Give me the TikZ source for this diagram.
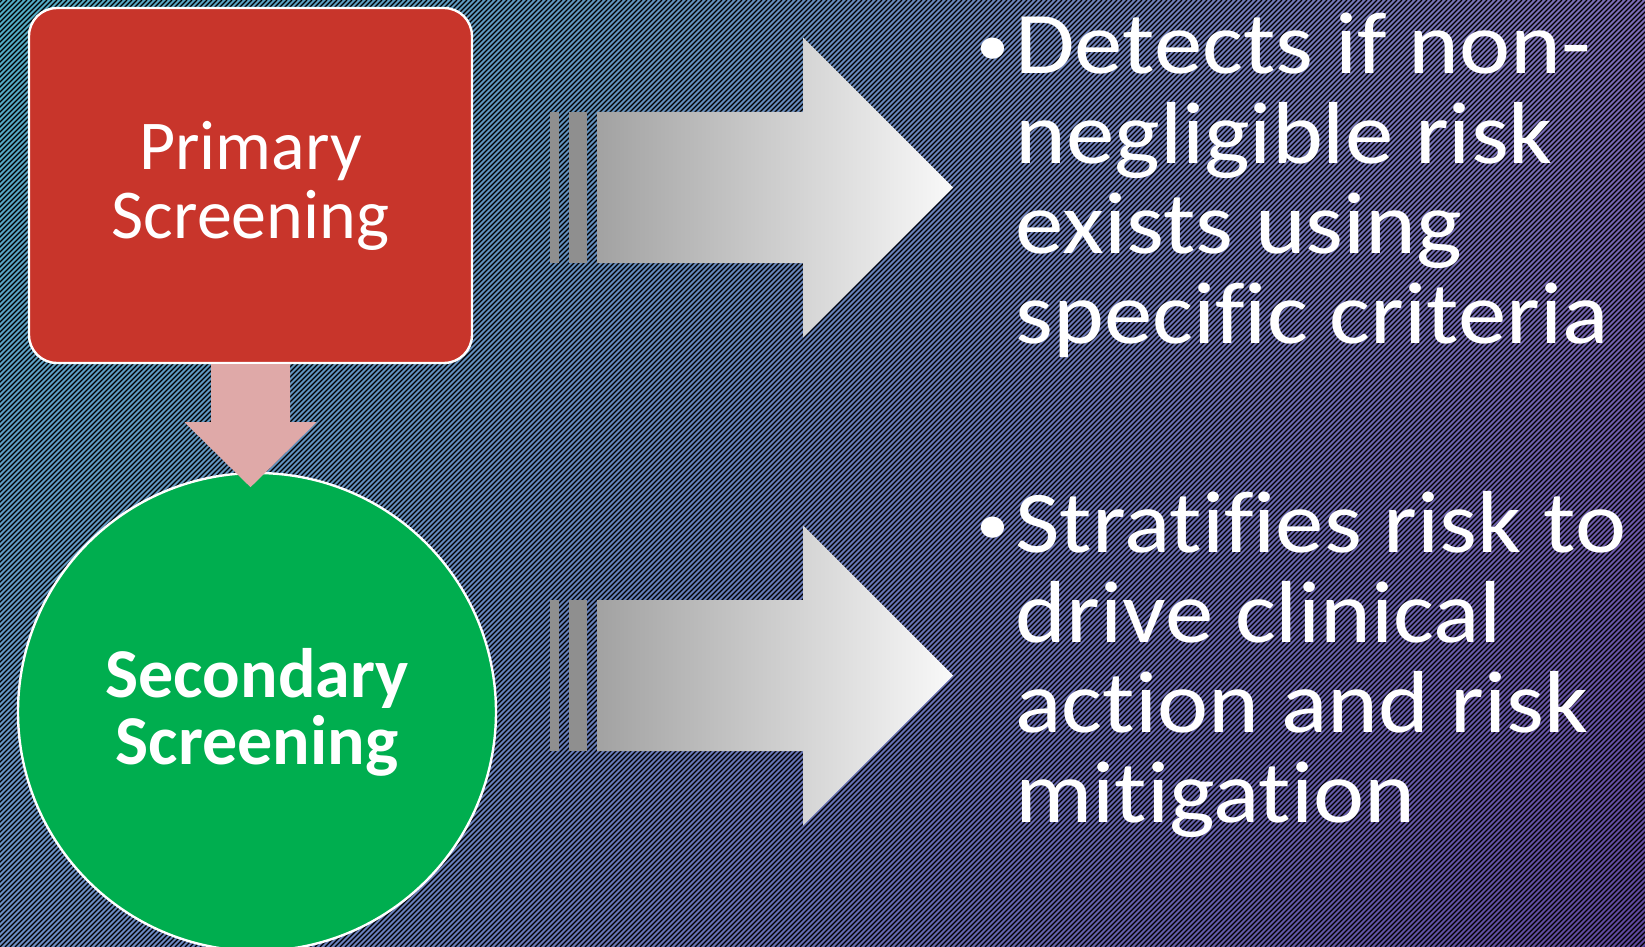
\documentclass[tikz,border=0pt]{standalone}
\usepackage{fontspec}
\setmainfont{Carlito}[Ligatures={NoCommon,NoRare}]
\newfontfamily\widefont{Carlito}[FakeStretch=1.1, Ligatures={NoCommon,NoRare}]
\usetikzlibrary{positioning,shadings}
\definecolor{bgUL}{HTML}{52ACC4}
\definecolor{bgUR}{HTML}{7C6BB4}
\definecolor{bgLL}{HTML}{6C8DC4}
\definecolor{bgLR}{HTML}{5E479C}
\definecolor{screenred}{HTML}{C8352B}
\definecolor{screengreen}{HTML}{00AE4F}
\definecolor{arrowpink}{HTML}{DFA9A8}
\definecolor{arrowL}{HTML}{A2A2A2}
\definecolor{arrowR}{HTML}{F9F9F9}
\definecolor{stripegray}{HTML}{8F8F8F}

\tikzset{
  bgline/.style={black, line width=0.6pt},
  screenbox/.style={rectangle, rounded corners=14pt, draw=white, line width=1.2pt, fill=screenred,
    minimum width=221.5pt, minimum height=177.5pt, align=center, text=white,
    font=\fontsize{35}{34.5}\selectfont},
  screencircle/.style={circle, draw=white, line width=1.2pt, fill=screengreen, minimum size=239pt,
    align=center, text=white, font=\fontsize{35}{33.5}\selectfont\bfseries},
  downarrow/.style={fill=arrowpink},
  bullettext/.style={align=left, text=white, inner sep=0pt, font=\widefont\fontsize{44}{45}\selectfont}
}

% small raised bullet in front of the first line
\newcommand{\dotmark}{\llap{\raisebox{4pt}{\fontsize{30}{30}\selectfont\textbullet}\hspace{3pt}}}

% one grey block arrow, centred on height #1
\newcommand{\blockarrow}[1]{%
  \fill[stripegray] (550,#1-75.5) rectangle (559,#1+75.5);
  \fill[stripegray] (569,#1-75.5) rectangle (587,#1+75.5);
  \shade[left color=arrowL, right color=arrowR] (597,#1-75.5) -- (803,#1-75.5) -- (803,#1-150)
    -- (953,#1) -- (803,#1+150) -- (803,#1+75.5) -- (597,#1+75.5) -- cycle;
}

\begin{document}
\begin{tikzpicture}[x=0.5pt, y=-0.5pt]

% Background
\useasboundingbox (0,0) rectangle (1645,947);
\shade[upper left=bgUL, upper right=bgUR, lower left=bgLL, lower right=bgLR] (0,0) rectangle (1645,947);
\begin{scope}
  \clip (0,0) rectangle (1645,947);
  \foreach \s in {-950,-945,...,1645}
    \draw[bgline] (\s,947) -- ++(947,-947);
\end{scope}

% Screening steps
\node[screenbox] (primary) at (250.5,185.5) {Primary\\Screening};
\node[screencircle] (secondary) at (257,712) {Secondary\\Screening};

% Arrow between the steps
\fill[downarrow] (primary.south) ++(-39.5,0) -- ++(0,58) -- ++(-26.5,0) -- ++(66,65)
  -- ++(66,-65) -- ++(-26.5,0) -- ++(0,-58) -- cycle;

% Grey arrows
\blockarrow{187.5}
\blockarrow{675.5}

% Bullets (anchored on the baseline of the last line)
\node[bullettext, anchor=base west] (detects) at (1015,343)
  {\dotmark Detects if non-\\negligible risk\\exists using\\specific criteria};
\node[bullettext, anchor=base west] (stratifies) at (1015,822)
  {\dotmark Stratifies risk to\\drive clinical\\action and risk\\mitigation};

\end{tikzpicture}
\end{document}
